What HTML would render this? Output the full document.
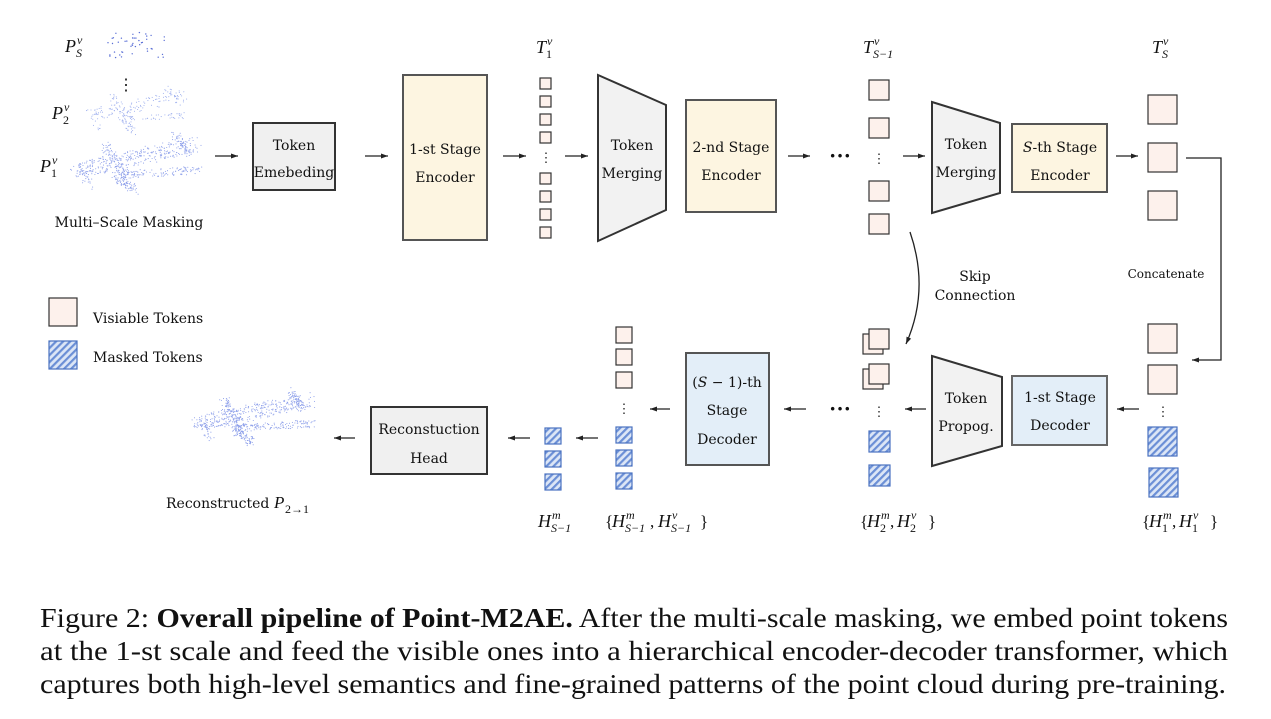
<!DOCTYPE html>
<html><head><meta charset="utf-8"><style>
html,body{margin:0;padding:0;background:#fff;width:1271px;height:719px;overflow:hidden}
svg{position:absolute;left:0;top:0}
.t{font-family:"DejaVu Serif","Liberation Serif",serif;font-size:14px;fill:#111}
.cap{font-family:"Liberation Serif",serif;font-size:27.5px;fill:#111}
</style></head><body>
<svg width="1271" height="719" viewBox="0 0 1271 719" xmlns="http://www.w3.org/2000/svg">
<defs>
<pattern id="h" width="5" height="5" patternUnits="userSpaceOnUse" patternTransform="rotate(45)">
<rect width="5" height="5" fill="#dce6f6"/><rect width="2.2" height="5" fill="#6b8fd6"/></pattern>
<marker id="a" markerWidth="8" markerHeight="8" refX="7" refY="4" orient="auto" markerUnits="userSpaceOnUse"><path d="M0,1.5 L7,4 L0,6.5 z" fill="#222"/></marker>
</defs>
<g id="pts"></g>
<g stroke="#222" stroke-width="1.3" fill="none" marker-end="url(#a)">
<line x1="215" y1="156" x2="238" y2="156"/>
<line x1="365" y1="156" x2="388" y2="156"/>
<line x1="503" y1="156" x2="526" y2="156"/>
<line x1="565" y1="156" x2="588" y2="156"/>
<line x1="788" y1="156" x2="810" y2="156"/>
<line x1="903" y1="156" x2="925" y2="156"/>
<line x1="1116" y1="156" x2="1138" y2="156"/>
<polyline points="1186,158 1221,158 1221,360 1192,360"/>
<path d="M910,232 Q930,290 906,344"/>
<line x1="1139" y1="409" x2="1117" y2="409"/>
<line x1="926" y1="409" x2="905" y2="409"/>
<line x1="806" y1="409" x2="784" y2="409"/>
<line x1="670" y1="409" x2="650" y2="409"/>
<line x1="598" y1="438" x2="576" y2="438"/>
<line x1="530" y1="438" x2="508" y2="438"/>
<line x1="355" y1="438" x2="334" y2="438"/>
</g>
<g stroke="#333" stroke-width="2">
<rect x="253" y="123" width="82" height="67" fill="#f0f0f0"/>
<rect x="403" y="75" width="84" height="165" fill="#fdf5e1" stroke="#555"/>
<polygon points="598,75 666,105 666,210 598,241" fill="#f2f2f2"/>
<rect x="686" y="100" width="90" height="112" fill="#fdf5e1" stroke="#555"/>
<polygon points="932,102 1000,123 1000,193 932,213" fill="#f2f2f2"/>
<rect x="1012" y="124" width="95" height="68" fill="#fdf5e1" stroke="#555"/>
<polygon points="932,356 1002,377 1002,446 932,466" fill="#f2f2f2"/>
<rect x="1012" y="376" width="95" height="69" fill="#e3eef8" stroke="#666"/>
<rect x="686" y="353" width="83" height="112" fill="#e3eef8" stroke="#555"/>
<rect x="371" y="407" width="116" height="67" fill="#f0f0f0"/>
</g>
<g id="tok" stroke="#333" stroke-width="1.2" fill="#fdf1ec"></g>
<g class="t" text-anchor="middle">
<text x="294" y="150">Token</text><text x="294" y="177">Emebeding</text>
<text x="445" y="154">1-st Stage</text><text x="445" y="182">Encoder</text>
<text x="632" y="150">Token</text><text x="632" y="178">Merging</text>
<text x="731" y="152">2-nd Stage</text><text x="731" y="180">Encoder</text>
<text x="966" y="149">Token</text><text x="966" y="177">Merging</text>
<text x="1060" y="152"><tspan font-style="italic">S</tspan>-th Stage</text><text x="1060" y="180">Encoder</text>
<text x="966" y="403">Token</text><text x="966" y="431">Propog.</text>
<text x="1060" y="402">1-st Stage</text><text x="1060" y="430">Decoder</text>
<text x="727" y="387">(<tspan font-style="italic">S</tspan> − 1)-th</text><text x="727" y="415">Stage</text><text x="727" y="444">Decoder</text>
<text x="429" y="434">Reconstuction</text><text x="429" y="463">Head</text>
<text x="129" y="227">Multi–Scale Masking</text>
<text x="975" y="281">Skip</text><text x="975" y="300">Connection</text>
<text x="1166" y="278" font-size="12">Concatenate</text>
<text x="93" y="323" text-anchor="start">Visiable Tokens</text>
<text x="93" y="362" text-anchor="start">Masked Tokens</text>
<text x="166" y="508" text-anchor="start">Reconstructed</text>
</g>
<g font-size="22" font-family="Liberation Serif,serif" font-weight="bold" text-anchor="middle" fill="#111">
<text x="840" y="163">···</text><text x="840" y="416">···</text>
<text x="126" y="90" font-size="16" font-weight="normal">⋮</text>
</g>
<g id="math" font-family="Liberation Serif,serif" fill="#111"></g>
<g class="cap">
<text x="40" y="627" textLength="1188" lengthAdjust="spacingAndGlyphs">Figure 2: <tspan font-weight="bold">Overall pipeline of Point-M2AE.</tspan> After the multi-scale masking, we embed point tokens</text>
<text x="40" y="660" textLength="1188" lengthAdjust="spacingAndGlyphs">at the 1-st scale and feed the visible ones into a hierarchical encoder-decoder transformer, which</text>
<text x="40" y="693" textLength="1186" lengthAdjust="spacingAndGlyphs">captures both high-level semantics and fine-grained patterns of the point cloud during pre-training.</text>
</g>
</svg>
<script>
var NS="http://www.w3.org/2000/svg";
var tok=document.getElementById('tok');
function sq(x,y,s,m){var r=document.createElementNS(NS,'rect');r.setAttribute('x',x);r.setAttribute('y',y);r.setAttribute('width',s);r.setAttribute('height',s);if(m){r.setAttribute('fill','url(#h)');r.setAttribute('stroke','#4a72c0');}tok.appendChild(r);}
function dots(x,y){var t=document.createElementNS(NS,'text');t.setAttribute('x',x);t.setAttribute('y',y);t.setAttribute('font-size','13');t.setAttribute('text-anchor','middle');t.setAttribute('fill','#222');t.setAttribute('stroke','none');t.textContent='⋮';tok.appendChild(t);}
[78,96,114,132,173,191,209,227].forEach(function(y){sq(540,y,11)});dots(546,162);
[80,118,181,214].forEach(function(y){sq(869,y,20)});dots(879,163);
[95,143,191].forEach(function(y){sq(1148,y,29)});
sq(1148,324,29);sq(1148,365,29);dots(1163,416);sq(1148,427,29,1);sq(1149,468,29,1);
sq(863,334,20);sq(869,329,20);sq(863,369,20);sq(869,364,20);dots(879,416);sq(869,431,21,1);sq(869,465,21,1);
[327,349,372].forEach(function(y){sq(616,y,16)});dots(624,413);[427,450,473].forEach(function(y){sq(616,y,16,1)});
[428,451,474].forEach(function(y){sq(545,y,16,1)});
sq(49,298,28);sq(49,341,28,1);
var M=document.getElementById('math');
function tx(x,y,s,fs,it){var t=document.createElementNS(NS,'text');t.setAttribute('x',x);t.setAttribute('y',y);t.setAttribute('font-size',fs);if(it)t.setAttribute('font-style','italic');t.textContent=s;M.appendChild(t);}
function lab(x,y,b,sub,sup,bw,subit){tx(x,y,b,18,true);tx(x+bw,y+5,sub,12,subit);tx(x+bw+1,y-8,sup,12,true);}
lab(65,52,'P','S','v',11,true);lab(52,119,'P','2','v',11,false);lab(40,172,'P','1','v',11,false);
lab(536,53,'T','1','v',10,false);lab(863,53,'T','S−1','v',10,true);lab(1152,53,'T','S','v',10,true);
tx(274,508,'P',17,true);tx(285,513,'2→1',12,false);
lab(538,527,'H','S−1','m',13,true);
tx(605,527,'{',17,false);lab(612,527,'H','S−1','m',13,true);tx(650,527,',',17,false);lab(658,527,'H','S−1','v',13,true);tx(700,527,'}',17,false);
tx(860,527,'{',17,false);lab(867,527,'H','2','m',13,false);tx(890,527,',',17,false);lab(897,527,'H','2','v',13,false);tx(928,527,'}',17,false);
tx(1142,527,'{',17,false);lab(1149,527,'H','1','m',13,false);tx(1172,527,',',17,false);lab(1179,527,'H','1','v',13,false);tx(1210,527,'}',17,false);
var g=document.getElementById('pts');var s=7;function rnd(){s=(s*9301+49297)%233280;return s/233280;}
function pt(x,y,r,c){var e=document.createElementNS(NS,'circle');e.setAttribute('cx',x.toFixed(1));e.setAttribute('cy',y.toFixed(1));e.setAttribute('r',r);e.setAttribute('fill',c);g.appendChild(e);}
function seg(x1,y1,x2,y2,w,n,r,c){for(var i=0;i<n;i++){var u=rnd();pt(x1+(x2-x1)*u+(rnd()-0.5)*w,y1+(y2-y1)*u+(rnd()-0.5)*w,r,c);}}
function plane(ox,oy,sc,n,r,c){
 seg(ox,oy+30*sc,ox+115*sc,oy+5*sc,16*sc,n*0.45,r,c);
 seg(ox+25*sc,oy+5*sc,ox+45*sc,oy+35*sc,10*sc,n*0.12,r,c);
 seg(ox+40*sc,oy+35*sc,ox+120*sc,oy+30*sc,8*sc,n*0.18,r,c);
 seg(ox+35*sc,oy+35*sc,ox+55*sc,oy+50*sc,10*sc,n*0.12,r,c);
 seg(ox+95*sc,oy-5*sc,ox+110*sc,oy+15*sc,8*sc,n*0.08,r,c);
 seg(ox-5*sc,oy+25*sc,ox+10*sc,oy+45*sc,10*sc,n*0.05,r,c);}
for(var i=0;i<45;i++)pt(105+rnd()*62,32+rnd()*26,0.7,'#5a6fd6');
plane(93,92,0.78,260,0.55,'#9fb0ee');
plane(80,140,1.0,700,0.55,'#8ea0ea');
plane(200,395,0.95,800,0.55,'#8ea0ea');
</script>
</body></html>
